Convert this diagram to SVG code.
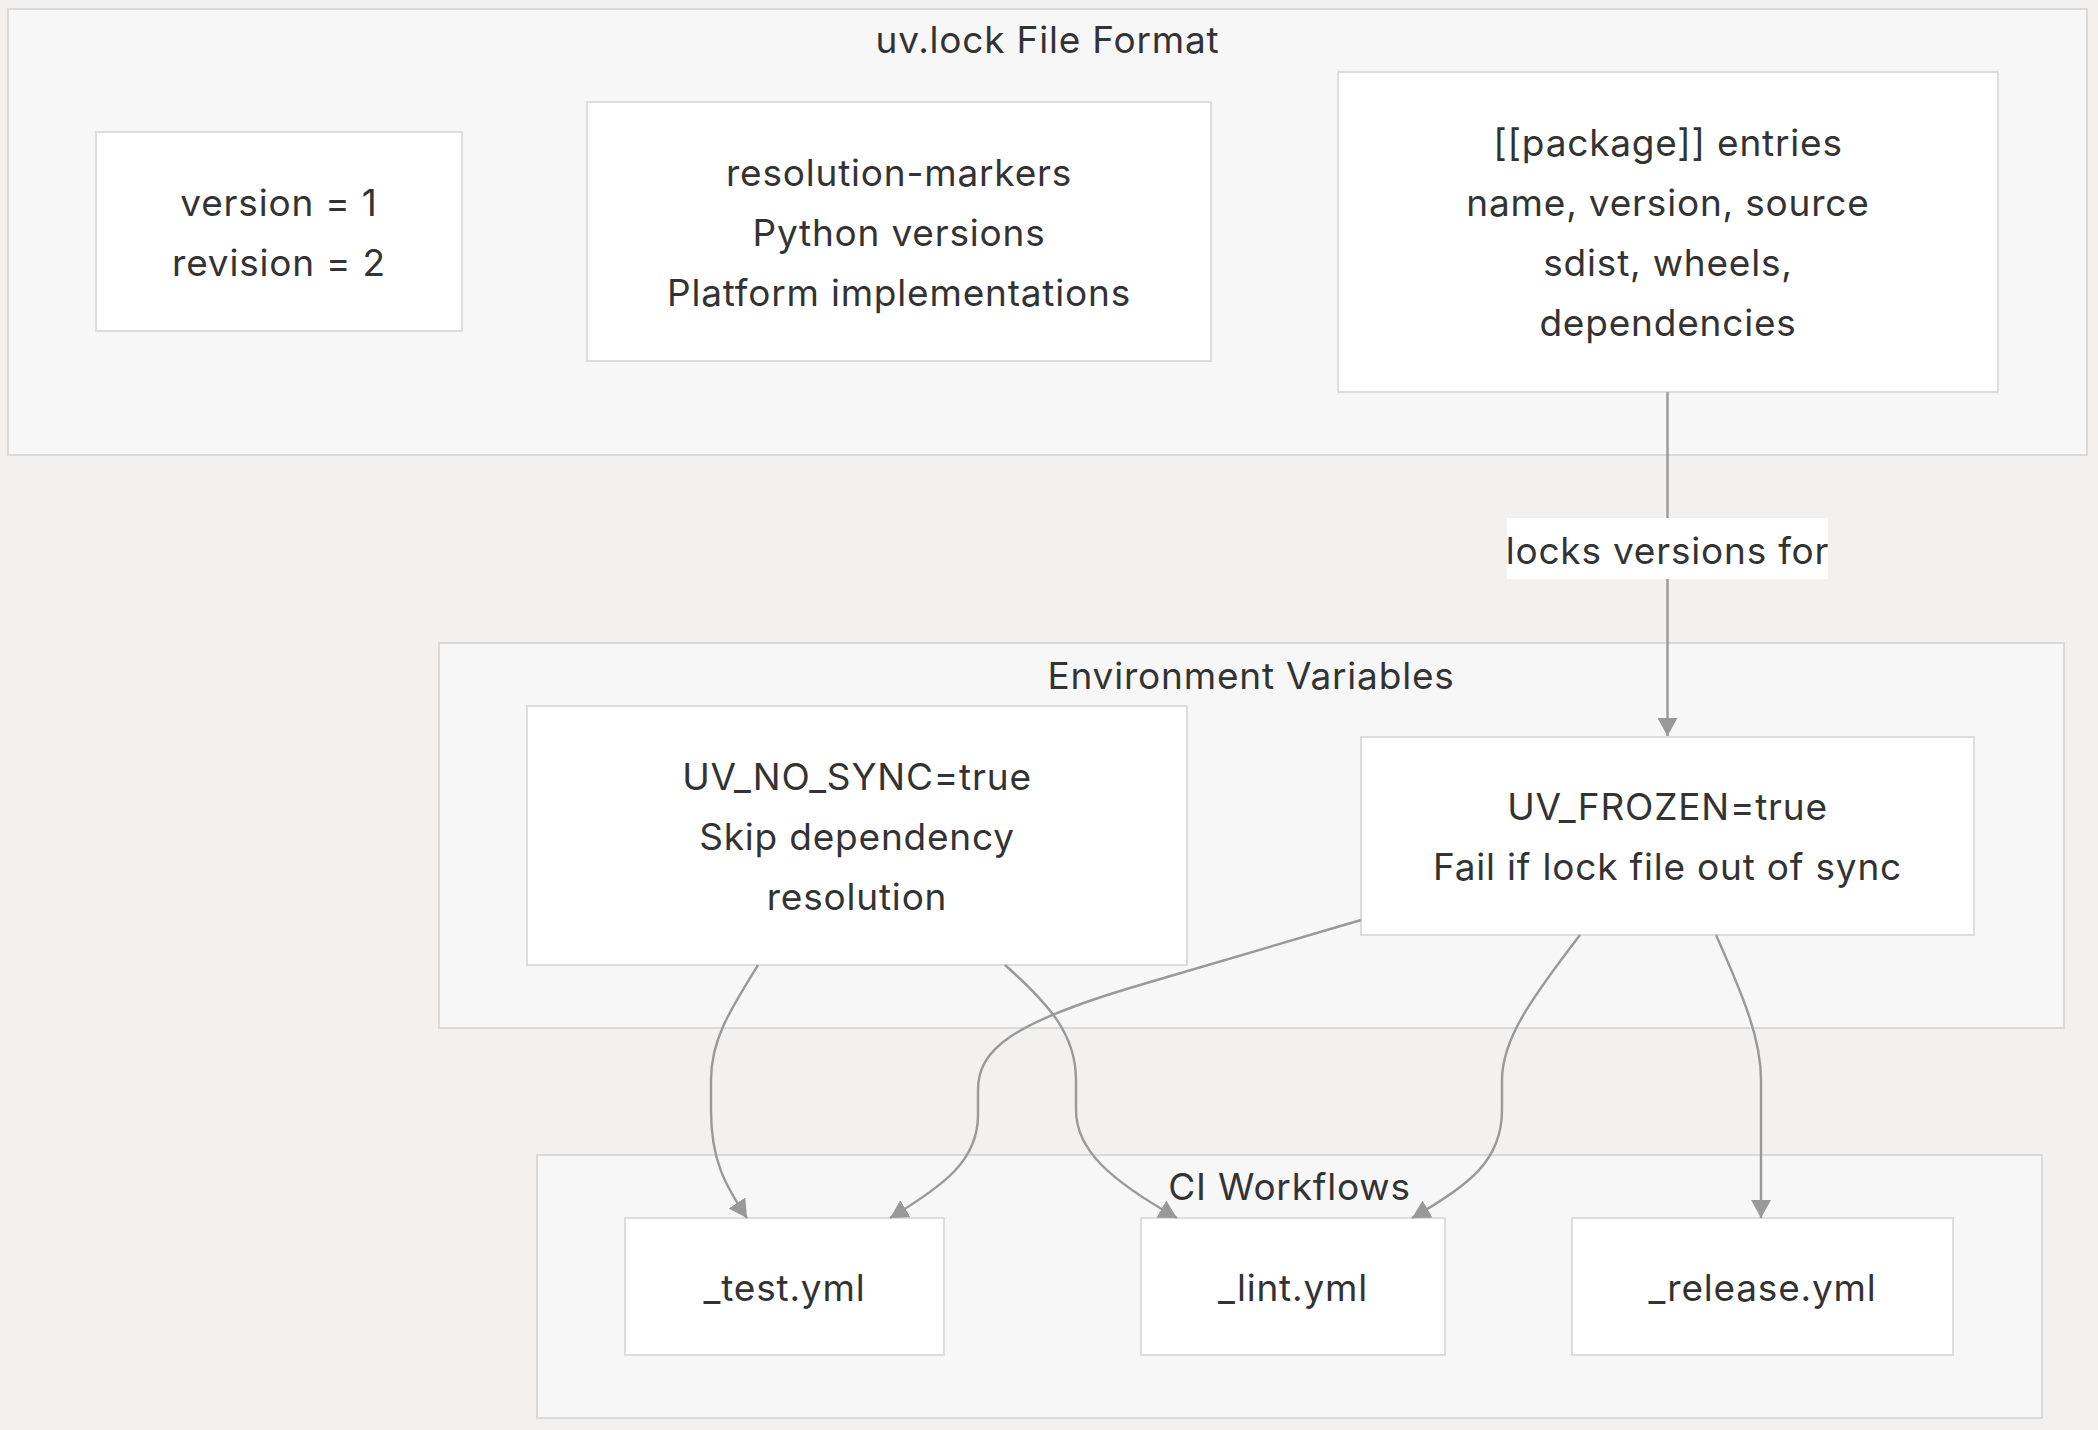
<svg xmlns="http://www.w3.org/2000/svg" width="2098" height="1430" viewBox="0 0 2098 1430">
<defs>
<style>
.bg{fill:#f2f1f0}
.cluster{fill:#f7f7f7;stroke:#dadada;stroke-width:2}
.node{fill:#ffffff;stroke:#dddddd;stroke-width:2}
text{font-family:Inter,"Liberation Sans",Arial,sans-serif;font-size:37px;fill:#333333;text-anchor:middle;letter-spacing:0.8px}
.edge{fill:none;stroke:#999999;stroke-width:2.4}
.lblbg{fill:#ffffff}
</style>
<marker id="arrow" markerUnits="userSpaceOnUse" viewBox="0 0 18 20" refX="18" refY="10" markerWidth="18" markerHeight="20" orient="auto">
<path d="M0,0 L18,10 L0,20 z" fill="#999999"/>
</marker>
</defs>
<rect class="bg" x="0" y="0" width="2098" height="1430"/>

<g id="cluster-uvlock">
<rect class="cluster" x="8" y="9" width="2079" height="446"/>
<text x="1047.5" y="53">uv.lock File Format</text>
</g>
<g id="cluster-env">
<rect class="cluster" x="439" y="643" width="1625" height="385"/>
<text x="1251" y="689">Environment Variables</text>
</g>
<g id="cluster-ci">
<rect class="cluster" x="537" y="1155" width="1505" height="263"/>
<text x="1289.5" y="1200">CI Workflows</text>
</g>

<g id="node-version">
<rect class="node" x="96" y="132" width="366" height="199"/>
<text x="279" y="216">version = 1</text>
<text x="279" y="276">revision = 2</text>
</g>
<g id="node-markers">
<rect class="node" x="587" y="102" width="624" height="259"/>
<text x="899" y="186">resolution-markers</text>
<text x="899" y="246">Python versions</text>
<text x="899" y="306">Platform implementations</text>
</g>
<g id="node-package">
<rect class="node" x="1338" y="72" width="660" height="320"/>
<text x="1668" y="156">[[package]] entries</text>
<text x="1668" y="216">name, version, source</text>
<text x="1668" y="276">sdist, wheels,</text>
<text x="1668" y="336">dependencies</text>
</g>
<g id="node-nosync">
<rect class="node" x="527" y="706" width="660" height="259"/>
<text x="857" y="790">UV_NO_SYNC=true</text>
<text x="857" y="850">Skip dependency</text>
<text x="857" y="910">resolution</text>
</g>
<g id="node-frozen">
<rect class="node" x="1361" y="737" width="613" height="198"/>
<text x="1667.5" y="820">UV_FROZEN=true</text>
<text x="1667.5" y="880">Fail if lock file out of sync</text>
</g>
<g id="node-test">
<rect class="node" x="625" y="1218" width="319" height="137"/>
<text x="784.5" y="1301">_test.yml</text>
</g>
<g id="node-lint">
<rect class="node" x="1141" y="1218" width="304" height="137"/>
<text x="1293" y="1301">_lint.yml</text>
</g>
<g id="node-release">
<rect class="node" x="1572" y="1218" width="381" height="137"/>
<text x="1762.5" y="1301">_release.yml</text>
</g>

<g id="connectors">
<path class="edge" d="M1667.5,392 L1667.5,736" marker-end="url(#arrow)"/>
<path class="edge" d="M758,965 C730,1010 711,1040 711,1080 L711,1110 C711,1160 725,1185 747,1218" marker-end="url(#arrow)"/>
<path class="edge" d="M1005,965 C1050,1005 1076,1035 1076,1080 L1076,1110 C1076,1150 1110,1180 1177,1218" marker-end="url(#arrow)"/>
<path class="edge" d="M1361,920 L1140,985 C1010,1023 978,1050 978,1090 L978,1115 C978,1160 945,1185 890,1218" marker-end="url(#arrow)"/>
<path class="edge" d="M1580,935 C1530,1000 1502,1040 1502,1080 L1502,1110 C1502,1160 1470,1185 1412,1218" marker-end="url(#arrow)"/>
<path class="edge" d="M1716,935 C1745,1000 1761,1040 1761,1080 L1761,1218" marker-end="url(#arrow)"/>
<g id="edge-label">
<rect class="lblbg" x="1507" y="518" width="321" height="61"/>
<text x="1667.5" y="564">locks versions for</text>
</g>
</g>
</svg>
